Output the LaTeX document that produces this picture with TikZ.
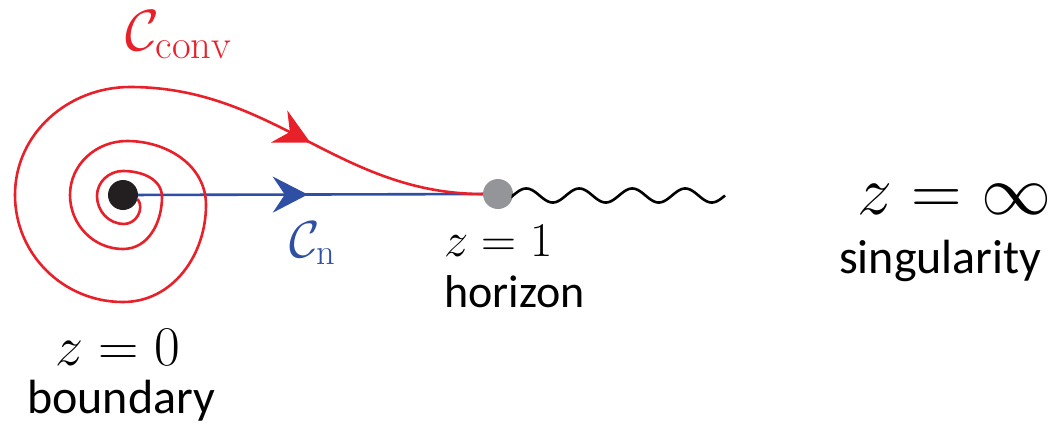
\documentclass[tikz,border=0pt]{standalone}
\usepackage{fix-cm}
\usepackage{fontspec}
\newfontfamily\carlito{Carlito}
\usetikzlibrary{arrows.meta,decorations.markings}
\definecolor{cred}{HTML}{E8202A}
\definecolor{cblue}{HTML}{2E4FA3}
\definecolor{dotblack}{HTML}{231F20}
\definecolor{dotgray}{HTML}{939598}
\tikzset{
  dotnode/.style={circle, minimum size=30pt, inner sep=0pt},
  lbl/.style={anchor=base west, inner sep=0pt},
  redline/.style={draw=cred, line width=2.6pt},
  blueline/.style={draw=cblue, line width=2.6pt},
  waveline/.style={draw=black, line width=2.6pt},
}
\begin{document}
\begin{tikzpicture}[x=1pt,y=-1pt]
\useasboundingbox (0,0) rectangle (1053,424);
\node[dotnode, fill=dotblack] (b) at (123,195) {};
\node[dotnode, fill=dotgray] (h) at (498,194) {};
% spiral turning points
\coordinate (B1) at (124,224); \coordinate (L1) at (97,196);
\coordinate (T1) at (123,171); \coordinate (R1) at (162,197);
\coordinate (B2) at (123,249); \coordinate (L2) at (70,195);
\coordinate (T2) at (127,141); \coordinate (R2) at (206,205);
\coordinate (B3) at (123,302); \coordinate (L3) at (15,195);
\coordinate (T3) at (130,87);
% blue contour
\draw[blueline, postaction={decorate}, decoration={markings, mark=at position -175pt with {\arrow[cblue]{Stealth[length=35pt, width=36pt, inset=12pt]}}}] (b) -- (h);
% red spiral contour
\draw[redline, postaction={decorate}, decoration={markings, mark=at position -182pt with {\arrow[cred]{Stealth[length=35pt, width=36pt, inset=12pt]}}}]
  (b.-15) to[out=-55, in=0, looseness=1.1] (B1)
  to[out=180, in=-90] (L1) to[out=90, in=180] (T1)
  to[out=0, in=90] (R1) to[out=-90, in=0] (B2)
  to[out=180, in=-90] (L2) to[out=90, in=180] (T2)
  to[out=0, in=90] (R2) to[out=-90, in=0] (B3)
  to[out=180, in=-90] (L3) to[out=90, in=180] (T3)
  to[out=0, in=180] (h.west);
% wavy branch cut
\draw[waveline] (h.east) -- plot[domain=0:212, samples=220, smooth] ({513+\x},{195.5-7*sin(\x/53*360)});
% labels
\node[lbl, text=cred, font=\fontsize{58}{68}\selectfont] (cc) at (125,50) {$\mathcal{C}_{\mathrm{conv}}$};
\node[lbl, text=cblue, font=\fontsize{52}{60}\selectfont] (cn) at (289,257) {$\mathcal{C}_{\mathrm{n}}$};
\node[lbl, font=\fontsize{48.5}{56}\selectfont] (z1) at (444,256) {$z=1$};
\node[lbl, font=\carlito\fontsize{46}{54}\selectfont] (hz) at (444,307) {horizon};
\node[lbl, font=\fontsize{70}{80}\selectfont] (zi) at (857,214) {$z=\infty$};
\node[lbl, font=\carlito\fontsize{48}{56}\selectfont] (sg) at (839,273) {singularity};
\node[lbl, font=\fontsize{56}{64}\selectfont] (z0) at (55,365) {$z=0$};
\node[lbl, font=\carlito\fontsize{48}{56}\selectfont] (bd) at (27,413) {boundary};
\end{tikzpicture}
\end{document}
